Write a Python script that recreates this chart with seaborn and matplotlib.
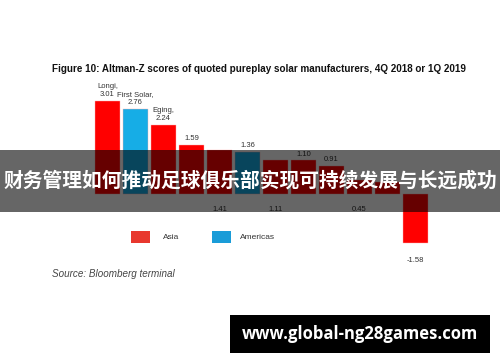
import matplotlib
matplotlib.use("Agg")
import matplotlib.pyplot as plt
import matplotlib.patches as mpatches
import seaborn as sns
import pandas as pd

sns.set_theme(style="white")
plt.rcParams['font.family'] = ['Liberation Sans', 'DejaVu Sans']

# ---- data ----
bar_labels = ["Longi,\n3.01", "First Solar,\n2.76", "Eging,\n2.24", "1.59", "1.41", "1.36",
              "1.11", "1.10", "0.91", "0.45", "", "-1.58"]
values = [3.01, 2.76, 2.24, 1.59, 1.41, 1.36, 1.11, 1.10, 0.91, 0.45, 0.40, -1.58]
regions = ["Asia", "Americas", "Asia", "Asia", "Asia", "Americas",
           "Asia", "Asia", "Asia", "Asia", "Asia", "Asia"]
label_below = [False, False, False, False, True, False, True, False, False, True, False, True]
legend_names = ["Asia", "Americas"]
title = "Figure 10: Altman-Z scores of quoted pureplay solar manufacturers, 4Q 2018 or 1Q 2019"
source = "Source: Bloomberg terminal"
banner = "财务管理如何推动足球俱乐部实现可持续发展与长远成功"
url = "www.global-ng28games.com"

bar_colors = {"Asia": "#ff0000", "Americas": "#16ade6"}
legend_colors = {"Asia": "#e8382e", "Americas": "#1a9cd8"}

df = pd.DataFrame({"idx": list(range(len(values))), "value": values, "region": regions})

W, H = 500, 362
fig = plt.figure(figsize=(5, 3.62), dpi=100)
fig.patch.set_facecolor("white")

# axes placement in pixels
ax = fig.add_axes([93.5 / W, (H - 252.7) / H, 336 / W, (252.7 - 85.8) / H])
sns.barplot(data=df, x="idx", y="value", hue="region", palette=bar_colors,
            dodge=False, width=0.88, legend=False, ax=ax, saturation=1,
            edgecolor="#ffb0b0", linewidth=0.3)
ax.set_xlim(-0.5, 11.5)
ax.set_ylim(-1.9, 3.5)
ax.axis("off")

for i, (v, lab, below) in enumerate(zip(values, bar_labels, label_below)):
    if not lab:
        continue
    if v < 0:
        ax.text(i, v - 0.45, lab, ha="center", va="top", fontsize=5.5, color="#333333")
    elif below:
        ax.text(i, -0.4, lab, ha="center", va="top", fontsize=5.5, color="#333333")
    else:
        ax.text(i, v + 0.08, lab, ha="center", va="bottom", fontsize=5.5, color="#333333",
                linespacing=1.2)

# title
fig.text(52 / W, 1 - 69 / H, title, fontsize=7.1, fontweight="bold", color="#111111",
         ha="left", va="center")

# legend
for k, (name, x0, tx) in enumerate(zip(legend_names, [131, 212], [163, 240])):
    fig.patches.append(mpatches.Rectangle((x0 / W, 1 - 243 / H), 19 / W, 12 / H,
                                          transform=fig.transFigure,
                                          facecolor=legend_colors[name], edgecolor="none"))
    fig.text(tx / W, 1 - 237.5 / H, name, fontsize=6, color="#333333", ha="left", va="center")

# source
fig.text(52 / W, 1 - 274 / H, source, fontsize=7.1, style="italic", color="#444444",
         ha="left", va="center")

# overlay banner
fig.patches.append(mpatches.Rectangle((0, 1 - 212 / H), 1, 62 / H, transform=fig.transFigure,
                                      facecolor="black", alpha=0.6, edgecolor="none", zorder=5))
fig.text(250 / W, 1 - 181 / H, banner, fontsize=14.2, fontweight="bold", color="white",
         ha="center", va="center", family=["Noto Sans CJK SC", "DejaVu Sans"], zorder=6)

# url box
fig.patches.append(mpatches.Rectangle((230 / W, 1 - 353 / H), 260 / W, 38 / H,
                                      transform=fig.transFigure, facecolor="black",
                                      edgecolor="none", zorder=5))
fig.text(360 / W, 1 - 334 / H, url, fontsize=12, fontweight="bold", color="white",
         ha="center", va="center", family=["Open Sans", "DejaVu Sans"], zorder=6)

fig.savefig("out.png", dpi=100)
